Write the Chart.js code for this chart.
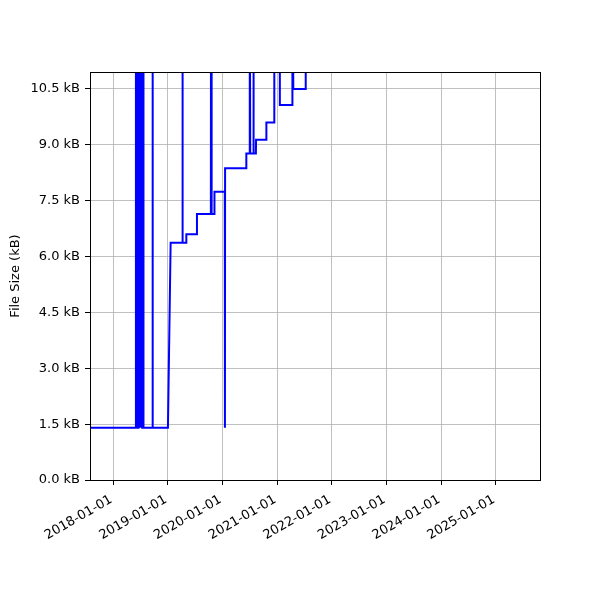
<!DOCTYPE html>
<html>
<head>
<meta charset="utf-8">
<script src="https://cdn.jsdelivr.net/npm/chart.js@4.4.1/dist/chart.umd.min.js"></script>
<style>
  html, body { margin: 0; padding: 0; background: #fff; }
  #wrap { width: 600px; height: 600px; }
</style>
</head>
<body>
<div id="wrap"><canvas id="chartSize" width="600" height="600"></canvas></div>
<script>
const HI = 14.0; // spikes that run off the top of the axes

const dates = [
  '2017-07-01', '2018-05-31',
  '2018-06-01', '2018-06-03', '2018-06-04', '2018-06-06', '2018-06-07', '2018-06-09',
  '2018-06-10', '2018-06-12', '2018-06-13', '2018-06-15', '2018-06-16', '2018-06-18',
  '2018-06-19', '2018-06-21', '2018-06-22', '2018-06-24', '2018-06-26',
  '2018-07-03', '2018-07-04', '2018-07-05', '2018-07-07', '2018-07-08', '2018-07-10',
  '2018-07-11', '2018-07-13', '2018-07-14', '2018-07-16', '2018-07-17', '2018-07-19',
  '2018-07-20', '2018-07-23',
  '2018-09-19', '2018-09-20', '2018-09-22',
  '2019-01-01', '2019-01-19',
  '2019-04-07', '2019-04-08', '2019-04-10',
  '2019-05-03', '2019-05-04',
  '2019-07-13', '2019-07-14',
  '2019-10-15', '2019-10-16', '2019-10-20',
  '2019-11-07', '2019-11-08',
  '2020-01-16', '2020-01-17', '2020-01-18',
  '2020-06-07', '2020-06-08',
  '2020-06-30', '2020-07-01', '2020-07-04',
  '2020-07-24', '2020-07-25', '2020-07-28',
  '2020-08-11', '2020-08-12',
  '2020-10-19', '2020-10-20',
  '2020-12-11', '2020-12-12', '2021-01-17', '2021-01-18',
  '2021-04-11', '2021-04-12', '2021-04-18',
  '2021-07-09', '2021-07-10', '2021-07-31'
];

const sizes = [
  1.4, 1.4,
  HI, 1.4, HI, 1.4, HI, 1.4,
  HI, 1.4, HI, 1.4, HI, 1.4,
  HI, 1.4, HI, 1.4, HI,
  HI, 1.4, HI, 1.4, HI, 1.4,
  HI, 1.4, HI, 1.4, HI, 1.4,
  HI, 1.4,
  1.4, HI, 1.4,
  1.4, 6.37,
  6.37, HI, 6.37,
  6.37, 6.6,
  6.6, 7.14,
  7.14, HI, 7.14,
  7.14, 7.74,
  7.74, 1.4, 8.37,
  8.37, 8.77,
  8.77, HI, 8.77,
  8.77, HI, 8.77,
  8.77, 9.14,
  9.14, 9.6,
  9.6, HI, HI, 10.07,
  10.07, HI, 10.5,
  10.5, HI, HI
];

const xTickLabels = ['2018-01-01', '2019-01-01', '2020-01-01', '2021-01-01',
  '2022-01-01', '2023-01-01', '2024-01-01', '2025-01-01'];
const yTickValues = [0, 1.5, 3, 4.5, 6, 7.5, 9, 10.5];

const xMin = Date.parse('2017-07-29');
const xMax = Date.parse('2025-10-23');
const yMax = 10.956;

const FONT = { family: 'DejaVu Sans', size: 13 };

const frame = {
  id: 'frame',
  afterDatasetsDraw(chart) {
    const { ctx, chartArea: a } = chart;
    ctx.save();
    ctx.strokeStyle = '#000';
    ctx.lineWidth = 1;
    ctx.strokeRect(Math.round(a.left) + 0.5, Math.round(a.top) + 0.5,
      Math.round(a.right - a.left), Math.round(a.bottom - a.top));
    ctx.restore();
  }
};

const points = dates.map((d, i) => ({ x: Date.parse(d), y: sizes[i] }));

new Chart(document.getElementById('chartSize').getContext('2d'), {
  type: 'line',
  data: {
    datasets: [{
      label: 'File Size',
      data: points,
      borderColor: '#0000ff',
      borderWidth: 2,
      pointRadius: 0,
      tension: 0,
      fill: false,
      clip: 0
    }]
  },
  options: {
    responsive: false,
    animation: false,
    devicePixelRatio: 1,
    layout: { padding: { top: 72, right: 60, left: 0, bottom: 0 } },
    plugins: { legend: { display: false }, tooltip: { enabled: false } },
    scales: {
      x: {
        type: 'linear',
        min: xMin,
        max: xMax,
        afterBuildTicks: s => { s.ticks = xTickLabels.map(t => ({ value: Date.parse(t) })); },
        afterFit: s => { s.height = 120; },
        grid: { color: '#b0b0b0', lineWidth: 0.8, tickColor: '#000', tickLength: 5, tickWidth: 1 },
        border: { display: false },
        ticks: {
          autoSkip: false,
          minRotation: 30,
          maxRotation: 30,
          padding: 7,
          labelOffset: -2,
          color: '#000',
          font: FONT,
          callback: v => new Date(v).toISOString().slice(0, 10)
        }
      },
      y: {
        min: 0,
        max: yMax,
        afterBuildTicks: s => { s.ticks = yTickValues.map(v => ({ value: v })); },
        afterFit: s => { s.width = 90; },
        grid: { color: '#b0b0b0', lineWidth: 0.8, tickColor: '#000', tickLength: 5, tickWidth: 1 },
        border: { display: false },
        title: { display: true, text: 'File Size (kB)', color: '#000', font: FONT, padding: { top: 8, bottom: 0 } },
        ticks: {
          padding: 5,
          color: '#000',
          font: FONT,
          callback: v => `${v.toFixed(1)} kB`
        }
      }
    }
  },
  plugins: [frame]
});
</script>
</body>
</html>
